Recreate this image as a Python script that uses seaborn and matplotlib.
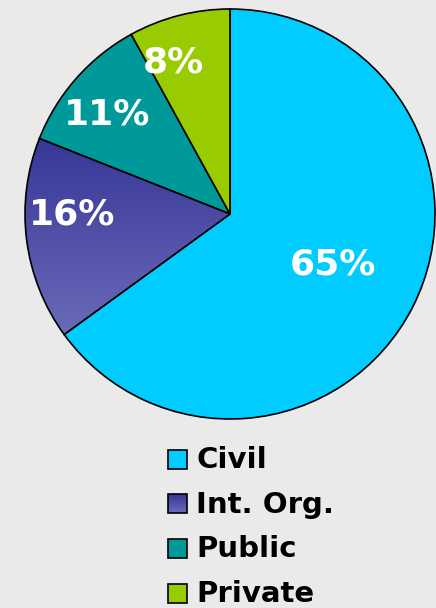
import numpy as np
import matplotlib
matplotlib.use("Agg")
import matplotlib.pyplot as plt
from matplotlib.patches import Rectangle
from matplotlib.colors import LinearSegmentedColormap
import seaborn as sns

# ---- data ----
categories = ["Civil", "Int. Org.", "Public", "Private"]
shares = [65, 16, 11, 8]
colors = ["#00ccff", "#4a4aa8", "#009999", "#99cc00"]

# ---- layout ----
W, H = 436, 608
bg = "#eaeaea"
sns.set_style("white")
plt.rcParams["font.family"] = ["DejaVu Sans"]

fig = plt.figure(figsize=(W / 100, H / 100), dpi=100, facecolor=bg)
ax = fig.add_axes([0, 0, 1, 1])
ax.set_facecolor(bg)

cx, cy, R = 230, H - 214, 205
wedges, _ = ax.pie(shares, colors=colors, startangle=90, counterclock=False,
                   center=(cx, cy), radius=R, frame=True,
                   wedgeprops=dict(edgecolor="black", linewidth=1.2))
ax.set_xlim(0, W)
ax.set_ylim(0, H)
ax.axis("off")

# gradient for Int. Org. wedge
grad = np.linspace(0, 1, 256).reshape(-1, 1)
cmap = LinearSegmentedColormap.from_list("p", ["#353596", "#6b6bba"])
im = ax.imshow(grad, cmap=cmap, extent=(cx - R, cx, H - 335, H - 134),
               origin="upper", aspect="auto", zorder=wedges[1].get_zorder() + 0.1)
im.set_clip_path(wedges[1])
wedges[1].set_facecolor("none")
wedges[1].set_zorder(wedges[1].get_zorder() + 0.2)

# percentage labels
label_r = [0.56, 0.77, 0.77, 0.79]
label_dth = [1.0, -7.0, 2.5, 6.0]
for w, s, r, dth in zip(wedges, shares, label_r, label_dth):
    th = np.deg2rad((w.theta1 + w.theta2) / 2 + dth)
    ax.text(cx + r * R * np.cos(th), cy + r * R * np.sin(th), f"{s}%",
            color="white", fontsize=26, fontweight="bold",
            ha="center", va="center", zorder=10)

# legend
x0, y0, dy, sq = 168, 459, 44.7, 19
for i, (c, col) in enumerate(zip(categories, colors)):
    yc = y0 + i * dy
    rect = Rectangle((x0 / W, 1 - (yc + sq / 2) / H), sq / W, sq / H,
                     transform=fig.transFigure, facecolor=col,
                     edgecolor="black", linewidth=1.2)
    fig.patches.append(rect)
    if i == 1:
        fax = fig.add_axes([x0 / W, 1 - (yc + sq / 2) / H, sq / W, sq / H])
        fax.imshow(grad, cmap=cmap, aspect="auto", origin="upper")
        fax.axis("off")
        rect.set_facecolor("none")
        rect.set_zorder(5)
        fig.patches.remove(rect)
        fax.add_patch(Rectangle((0, 0), 1, 1, transform=fax.transAxes,
                                facecolor="none", edgecolor="black",
                                linewidth=1.2, clip_on=False))
    fig.text(196 / W, 1 - (yc + 1) / H, c, fontsize=21, fontweight="bold",
             ha="left", va="center", color="black")

fig.savefig("out.png", dpi=100, facecolor=bg)
